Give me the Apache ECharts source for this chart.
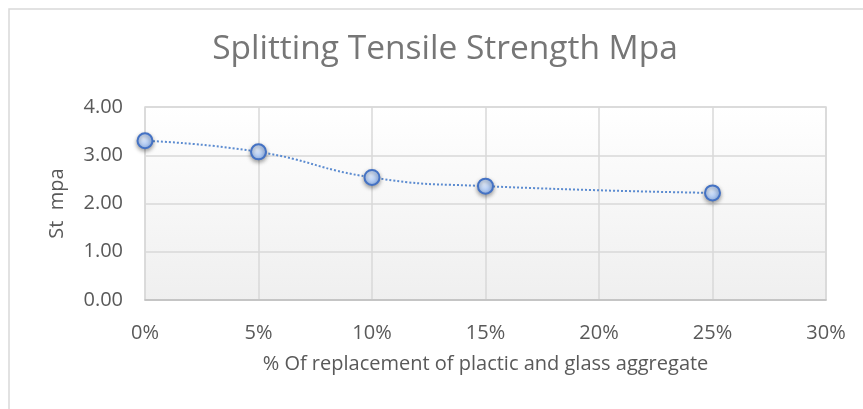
<!DOCTYPE html>
<html>
<head>
<meta charset="utf-8">
<script src="https://cdn.jsdelivr.net/npm/echarts@6/dist/echarts.min.js"></script>
<style>
html,body{margin:0;padding:0;background:#fff;}
#main{width:863px;height:409px;}
</style>
</head>
<body>
<div id="main"></div>
<script>
var titleText = 'Splitting Tensile Strength Mpa';
var xAxisName = '% Of replacement of plactic and glass aggregate';
var yAxisName = 'St  mpa';
var replacement = [0, 0.05, 0.10, 0.15, 0.25];
var strength = [3.30, 3.07, 2.54, 2.36, 2.22];
var xTicks = [0, 0.05, 0.10, 0.15, 0.20, 0.25, 0.30];
var yTicks = [0, 1, 2, 3, 4];

var chart = echarts.init(document.getElementById('main'), null, {renderer: 'canvas'});
var font = 'Open Sans';
var textColor = '#595959';
var option = {
  animation: false,
  backgroundColor: '#ffffff',
  graphic: [{
    type: 'rect',
    shape: {x: 9, y: 9, width: 900, height: 450},
    style: {fill: 'none', stroke: '#d9d9d9', lineWidth: 1.5},
    silent: true
  }],
  title: {
    text: titleText,
    left: 440,
    textAlign: 'center',
    top: 27,
    textStyle: {fontFamily: font, fontSize: 33.5, fontWeight: 'normal', color: '#767676'}
  },
  grid: {
    left: 145, right: 37, top: 107, bottom: 109,
    show: true,
    borderColor: '#d9d9d9',
    borderWidth: 1.5,
    backgroundColor: {
      type: 'linear', x: 0, y: 0, x2: 0, y2: 1,
      colorStops: [{offset: 0, color: '#ffffff'}, {offset: 1, color: '#efefef'}]
    }
  },
  xAxis: {
    type: 'value',
    min: xTicks[0],
    max: xTicks[xTicks.length - 1],
    interval: 0.05,
    name: xAxisName,
    nameLocation: 'middle',
    nameGap: 54,
    nameTextStyle: {fontFamily: font, fontSize: 20, color: textColor, verticalAlign: 'top'},
    axisLine: {show: true, lineStyle: {color: '#bfbfbf', width: 1.5}},
    axisTick: {show: false},
    axisLabel: {
      fontFamily: font, fontSize: 20, color: textColor, margin: 23,
      formatter: function (v) { return Math.round(v * 100) + '%'; }
    },
    splitLine: {show: true, lineStyle: {color: '#d9d9d9', width: 1.5}}
  },
  yAxis: {
    type: 'value',
    min: yTicks[0],
    max: yTicks[yTicks.length - 1],
    interval: 1,
    name: yAxisName,
    nameLocation: 'middle',
    nameGap: 78,
    nameTextStyle: {fontFamily: font, fontSize: 20, color: textColor},
    axisLine: {show: false},
    axisTick: {show: false},
    axisLabel: {
      fontFamily: font, fontSize: 20, color: textColor, margin: 22,
      formatter: function (v) { return v.toFixed(2); }
    },
    splitLine: {show: true, lineStyle: {color: '#d9d9d9', width: 1.5}}
  },
  series: [{
    type: 'line',
    data: replacement.map(function (x, i) { return [x, strength[i]]; }),
    smooth: 0.5,
    lineStyle: {type: 'dotted', width: 2, color: '#5b8bd0'},
    symbol: 'circle',
    symbolSize: 15,
    itemStyle: {
      color: {
        type: 'radial', x: 0.4, y: 0.35, r: 0.7,
        colorStops: [{offset: 0, color: '#e3edfc'}, {offset: 1, color: '#8fb3ec'}]
      },
      borderColor: '#4472c4',
      borderWidth: 2,
      shadowBlur: 4,
      shadowColor: 'rgba(0,0,0,0.35)',
      shadowOffsetY: 2
    }
  }]
};
chart.setOption(option);
</script>
</body>
</html>
